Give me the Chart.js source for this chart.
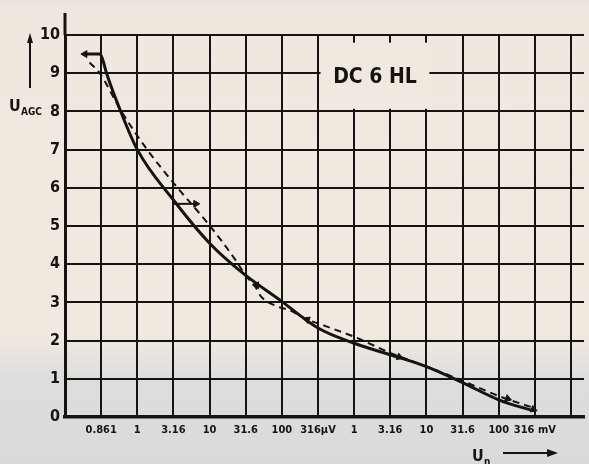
<!DOCTYPE html>
<html>
<head>
<meta charset="utf-8">
<script src="https://cdn.jsdelivr.net/npm/chart.js@4"></script>
<style>
  html, body { margin: 0; padding: 0; }
  body {
    width: 589px; height: 464px; overflow: hidden;
    background: linear-gradient(to bottom, #e8e6e0 0px, #f0e8de 14px, #f1e9df 335px, #dcdedc 378px, #d8dbda 464px);
  }
  #wrap { position: relative; width: 589px; height: 464px; }
  canvas { display: block; }
</style>
</head>
<body>
<div id="wrap"><canvas id="agc" width="589" height="464"></canvas></div>
<script>
// --- data (x = grid position, one step = half a decade) ---
const xTickPos = [0, 1, 2, 3, 4, 5, 6, 7, 8, 9, 10, 11, 12, 13, 14];
const xTickLabels = ['', '0.861', '1', '3.16', '10', '31.6', '100', '316μV', '1', '3.16', '10', '31.6', '100', '316 mV', ''];
const yTicks = [0, 1, 2, 3, 4, 5, 6, 7, 8, 9, 10];

const solidX = [0.55, 0.97, 1.05, 1.15, 1.5, 2.0, 3.0, 4.0, 4.93, 5.95, 7.0, 8.0, 9.0, 10.0, 11.0, 12.0, 12.96];
const solidY = [9.5, 9.5, 9.33, 9.0, 8.1, 7.0, 5.68, 4.55, 3.76, 3.06, 2.33, 1.93, 1.63, 1.32, 0.9, 0.45, 0.16];

const dashX = [0.68, 0.96, 1.56, 2.25, 3.07, 3.97, 4.74, 5.0, 5.26, 5.42, 5.89, 6.2, 6.7, 7.0, 8.0, 9.0, 9.5, 10.0, 10.5, 11.0, 12.0, 12.96];
const dashY = [9.28, 9.0, 8.0, 7.03, 6.05, 5.05, 4.08, 3.7, 3.42, 3.16, 2.89, 2.8, 2.55, 2.45, 2.1, 1.68, 1.5, 1.32, 1.14, 0.95, 0.55, 0.24];

// small arrow heads drawn on the curves
const arrowX = [0.55, 3.62, 5.3, 6.7, 9.25, 12.25, 12.96];
const arrowY = [9.5, 5.58, 3.45, 2.55, 1.57, 0.48, 0.2];
const arrowRot = [270, 90, 150, 290, 110, 110, 110];
const shaftX = [3.01, 3.62];
const shaftY = [5.58, 5.58];

const FONT = "'Liberation Sans Narrow', 'DejaVu Sans Condensed', 'Arial Narrow', sans-serif";
const INK = '#141414';

const pts = (xs, ys) => xs.map((x, i) => ({ x, y: ys[i] }));

// annotations: axis titles, arrows, type label
const decor = {
  id: 'decor',
  afterDraw(chart) {
    const { ctx, chartArea: a, scales: { x, y } } = chart;
    ctx.save();
    ctx.strokeStyle = INK; ctx.fillStyle = INK;

    // y axis runs a bit above 10
    ctx.lineWidth = 3;
    ctx.beginPath(); ctx.moveTo(a.left, 13); ctx.lineTo(a.left, a.top); ctx.stroke();

    // U_AGC label + up arrow
    ctx.font = 'bold 16px ' + FONT;
    ctx.textBaseline = 'middle'; ctx.textAlign = 'left';
    ctx.fillText('U', 9, 107);
    ctx.font = 'bold 10px ' + FONT;
    ctx.fillText('AGC', 21, 112);
    ctx.lineWidth = 2;
    ctx.beginPath(); ctx.moveTo(30, 88); ctx.lineTo(30, 40); ctx.stroke();
    ctx.beginPath(); ctx.moveTo(30, 33); ctx.lineTo(27, 43); ctx.lineTo(33, 43); ctx.closePath(); ctx.fill();

    // U_n label + right arrow
    ctx.font = 'bold 16px ' + FONT;
    ctx.fillText('U', 472, 457);
    ctx.font = 'bold 10px ' + FONT;
    ctx.fillText('n', 484, 462);
    ctx.lineWidth = 2;
    ctx.beginPath(); ctx.moveTo(503, 453); ctx.lineTo(550, 453); ctx.stroke();
    ctx.beginPath(); ctx.moveTo(558, 453); ctx.lineTo(547, 449); ctx.lineTo(547, 457); ctx.closePath(); ctx.fill();

    // DC 6 HL box
    const bx0 = x.getPixelForValue(7.07), bx1 = x.getPixelForValue(10.0) + 3;
    const by0 = y.getPixelForValue(9.8), by1 = y.getPixelForValue(8.07);
    ctx.fillStyle = '#f1e9df';
    ctx.fillRect(bx0, by0, bx1 - bx0, by1 - by0);
    ctx.fillStyle = INK;
    ctx.font = 'bold 21px ' + FONT;
    ctx.textAlign = 'center';
    ctx.fillText('DC 6 HL', (bx0 + bx1) / 2, y.getPixelForValue(9) + 4);
    ctx.restore();
  }
};

const gridOpts = { color: INK, lineWidth: 2, drawTicks: false };

new Chart(document.getElementById('agc'), {
  type: 'scatter',
  data: {
    datasets: [{
      data: pts(solidX, solidY),
      showLine: true,
      borderColor: INK,
      borderWidth: 3,
      pointRadius: 0,
      cubicInterpolationMode: 'monotone',
    }, {
      data: pts(dashX, dashY),
      showLine: true,
      borderColor: INK,
      borderWidth: 2,
      borderDash: [7, 5],
      pointRadius: 0,
      cubicInterpolationMode: 'monotone',
    }, {
      data: pts(shaftX, shaftY),
      showLine: true,
      borderColor: INK,
      borderWidth: 2,
      pointRadius: 0,
    }, {
      data: pts(arrowX, arrowY),
      showLine: false,
      pointStyle: 'triangle',
      rotation: arrowRot,
      pointRadius: 4,
      backgroundColor: INK,
      borderColor: INK,
      borderWidth: 1,
    }],
  },
  options: {
    responsive: false,
    animation: false,
    layout: { padding: { top: 35, right: 0, left: 0, bottom: 0 } },
    plugins: { legend: { display: false }, tooltip: { enabled: false } },
    scales: {
      x: {
        type: 'linear', min: 0, max: 14.36,
        afterBuildTicks: (s) => { s.ticks = xTickPos.map(v => ({ value: v })); },
        afterFit: (s) => { s.height = 47; },
        ticks: {
          autoSkip: false, maxRotation: 0, padding: 7, color: INK,
          font: { size: 11, weight: 'bold', family: FONT },
          callback: (v) => xTickLabels[Math.round(v)] ?? '',
        },
        grid: gridOpts,
        border: { color: INK, width: 3.5 },
      },
      y: {
        min: 0, max: 10,
        afterBuildTicks: (s) => { s.ticks = yTicks.map(v => ({ value: v })); },
        afterFit: (s) => { s.width = 65; },
        ticks: {
          autoSkip: false, padding: 5, color: INK,
          font: { size: 16, weight: 'bold', family: FONT },
        },
        grid: gridOpts,
        border: { color: INK, width: 3 },
      },
    },
  },
  plugins: [decor],
});
</script>
</body>
</html>
